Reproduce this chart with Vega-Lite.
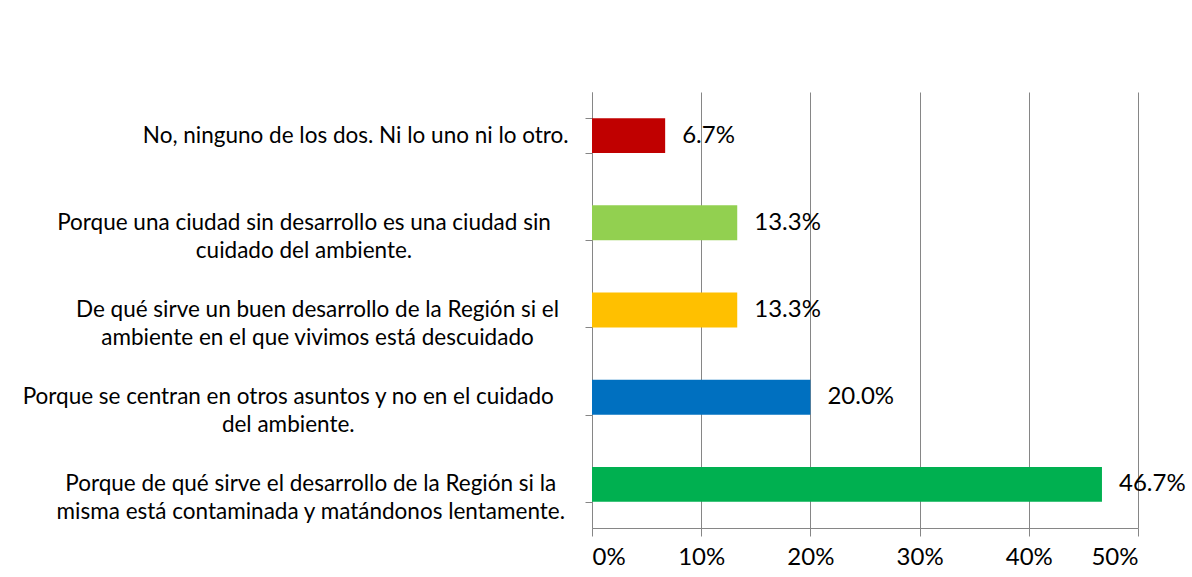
{
  "$schema": "https://vega.github.io/schema/vega-lite/v6.json",
  "width": 546,
  "height": 436,
  "autosize": {"type": "none"},
  "padding": {"left": 592, "top": 92, "right": 54, "bottom": 49},
  "background": "white",
  "config": {"view": {"stroke": null}, "font": "Lato"},
  "data": {
    "values": [
      {"cat": "No, ninguno de los dos. Ni lo uno ni lo otro.", "pct": 0.067},
      {"cat": "Porque una ciudad sin desarrollo es una ciudad sin\ncuidado del ambiente.", "pct": 0.133},
      {"cat": "De qué sirve un buen desarrollo de la Región si el\nambiente en el que vivimos está descuidado", "pct": 0.133},
      {"cat": "Porque se centran en otros asuntos y no en el cuidado\ndel ambiente.", "pct": 0.2},
      {"cat": "Porque de qué sirve el desarrollo de la Región si la\nmisma está contaminada y matándonos lentamente.", "pct": 0.467}
    ]
  },
  "encoding": {
    "y": {
      "field": "cat",
      "type": "nominal",
      "sort": null,
      "scale": {"paddingInner": 0.6, "paddingOuter": 0.3},
      "axis": {
        "title": null,
        "tickBand": "extent",
        "tickSize": 7,
        "tickColor": "#868686",
        "domainColor": "#868686",
        "labels": false
      }
    },
    "x": {
      "field": "pct",
      "type": "quantitative",
      "scale": {"domain": [0, 0.5], "nice": false},
      "axis": {
        "title": null,
        "values": [0, 0.1, 0.2, 0.3, 0.4, 0.5],
        "format": ".0%",
        "grid": true,
        "gridColor": "#868686",
        "gridOpacity": 1,
        "tickColor": "#868686",
        "domainColor": "#868686",
        "tickSize": 8,
        "labelPadding": 9,
        "labelFontSize": 24,
        "labelColor": "#000000"
      }
    }
  },
  "layer": [
    {
      "mark": {"type": "bar"},
      "encoding": {
        "color": {
          "field": "cat",
          "type": "nominal",
          "legend": null,
          "scale": {
            "domain": [
              "No, ninguno de los dos. Ni lo uno ni lo otro.",
              "Porque una ciudad sin desarrollo es una ciudad sin\ncuidado del ambiente.",
              "De qué sirve un buen desarrollo de la Región si el\nambiente en el que vivimos está descuidado",
              "Porque se centran en otros asuntos y no en el cuidado\ndel ambiente.",
              "Porque de qué sirve el desarrollo de la Región si la\nmisma está contaminada y matándonos lentamente."
            ],
            "range": ["#C00000", "#92D050", "#FFC000", "#0070C0", "#00B050"]
          }
        }
      }
    },
    {
      "mark": {"type": "text", "align": "left", "baseline": "middle", "dx": 17, "fontSize": 24, "color": "#000000"},
      "encoding": {
        "text": {"field": "pct", "type": "quantitative", "format": ".1%"}
      }
    },
    {
      "mark": {
        "type": "text",
        "align": "center",
        "baseline": "middle",
        "fontSize": 22.5,
        "lineHeight": 28,
        "lineBreak": "\n",
        "color": "#000000",
        "dx": {"expr": "-27 - 0.5 * max(4.5 * length(split(datum.cat, '\\n')[0]) + 9 * length(replace(split(datum.cat, '\\n')[0], regexp('[ ilj.,tfr]', 'g'), '')), 4.5 * length(peek(split(datum.cat, '\\n'))) + 9 * length(replace(peek(split(datum.cat, '\\n')), regexp('[ ilj.,tfr]', 'g'), '')))"}
      },
      "encoding": {
        "x": {"datum": 0},
        "text": {"field": "cat", "type": "nominal"}
      }
    }
  ]
}
